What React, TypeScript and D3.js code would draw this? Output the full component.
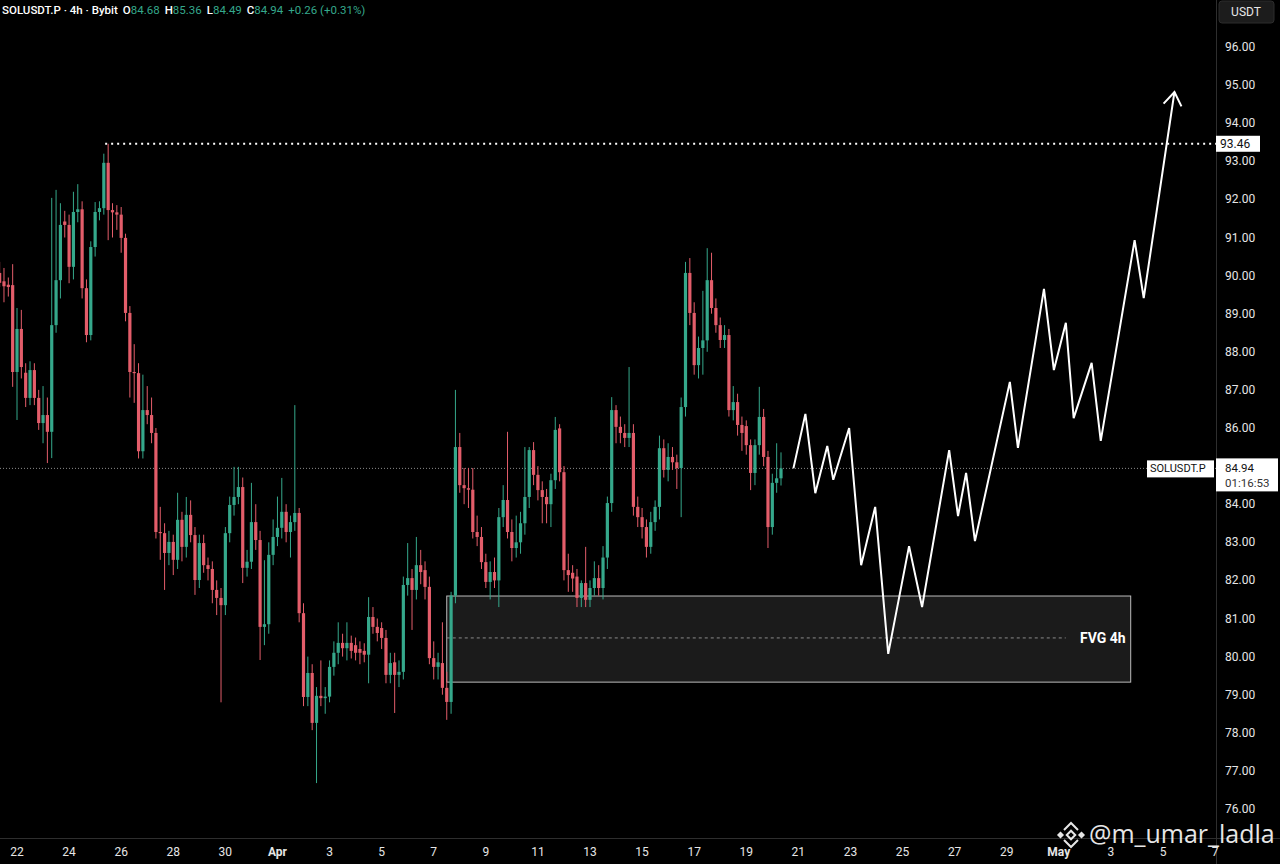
import React, { useEffect, useRef } from 'react';
import * as d3 from 'd3';

// 4h candles [open, high, low, close], first candle 21 Mar 08:00 UTC
const candles: [number, number, number, number][] = [
  [90.07, 90.36, 89.7, 89.81], [89.85, 90.2, 89.3, 89.72], [89.76, 89.95, 89.45, 89.7], [89.75, 90.3, 87.08, 87.47],
  [87.47, 89.15, 86.21, 88.6], [88.6, 89.1, 87.3, 87.6], [87.45, 87.7, 86.55, 86.79], [86.79, 87.75, 86.6, 87.52],
  [87.52, 87.7, 86.6, 86.79], [86.79, 87.0, 85.95, 86.13], [86.13, 87.1, 85.6, 86.34], [86.34, 86.8, 85.08, 85.9],
  [85.9, 92.04, 85.21, 88.7], [88.7, 92.25, 88.5, 89.88], [89.88, 91.9, 89.4, 91.33], [91.42, 91.7, 91.0, 91.33],
  [91.33, 91.6, 89.8, 90.23], [90.23, 92.2, 89.9, 91.67], [91.67, 92.4, 91.4, 91.74], [91.74, 91.95, 89.4, 89.67],
  [89.67, 89.9, 88.25, 88.44], [88.44, 90.9, 88.3, 90.75], [90.75, 91.93, 90.5, 91.67], [91.67, 91.95, 91.45, 91.77],
  [91.77, 93.2, 91.6, 92.96], [92.96, 93.46, 90.93, 91.72], [91.72, 91.9, 91.0, 91.66], [91.66, 91.85, 91.2, 91.6],
  [91.6, 91.8, 90.6, 90.99], [90.99, 91.1, 88.8, 89.02], [89.02, 89.2, 86.8, 87.47], [87.47, 88.2, 86.66, 87.44],
  [87.44, 87.7, 85.2, 85.39], [85.39, 87.4, 85.2, 86.47], [86.47, 87.1, 86.1, 86.34], [86.34, 86.8, 85.6, 85.87],
  [85.87, 86.0, 83.1, 83.27], [83.27, 83.93, 82.54, 83.24], [83.24, 83.5, 81.75, 82.72], [82.72, 83.3, 82.4, 83.01],
  [83.01, 83.2, 82.14, 82.54], [82.54, 84.3, 82.3, 83.59], [83.59, 83.8, 82.5, 82.88], [82.88, 84.19, 82.6, 83.72],
  [83.72, 84.1, 83.0, 83.19], [83.19, 83.4, 81.62, 82.01], [82.01, 83.2, 81.8, 82.98], [82.98, 83.2, 82.2, 82.4],
  [82.4, 82.6, 82.0, 82.3], [82.3, 82.5, 81.4, 81.75], [81.75, 82.0, 81.09, 81.54], [81.54, 81.8, 78.8, 81.35],
  [81.35, 83.4, 81.09, 83.24], [83.24, 84.2, 83.0, 83.98], [83.98, 84.98, 83.7, 84.19], [84.19, 84.98, 84.0, 84.45],
  [84.45, 84.7, 81.93, 82.33], [82.33, 82.8, 82.1, 82.49], [82.49, 84.56, 82.3, 83.53], [83.53, 84.0, 82.8, 83.06],
  [83.06, 83.3, 79.91, 80.78], [80.78, 82.53, 80.3, 80.85], [80.85, 83.0, 80.6, 82.67], [82.67, 83.6, 82.4, 83.14],
  [83.14, 84.2, 82.9, 83.38], [83.38, 84.69, 83.1, 83.8], [83.8, 84.0, 83.0, 83.27], [83.27, 83.7, 82.6, 83.53],
  [83.53, 86.6, 83.3, 83.77], [83.77, 83.9, 80.9, 81.14], [81.14, 81.4, 78.7, 78.94], [78.94, 80.0, 78.7, 79.57],
  [79.57, 79.8, 78.07, 78.26], [78.26, 79.2, 76.68, 78.97], [78.97, 79.9, 78.7, 78.91], [78.91, 79.2, 78.5, 78.95],
  [78.95, 79.9, 78.8, 79.73], [79.73, 80.4, 79.5, 80.1], [80.1, 80.9, 79.8, 80.36], [80.36, 80.6, 80.0, 80.22],
  [80.22, 80.9, 79.9, 80.36], [80.36, 80.55, 79.95, 80.15], [80.3, 80.5, 79.9, 80.1], [80.2, 80.4, 79.8, 80.1],
  [80.15, 80.35, 79.85, 80.05], [80.05, 81.56, 79.3, 81.04], [81.04, 81.3, 80.6, 80.78], [80.78, 81.0, 80.4, 80.62],
  [80.75, 80.9, 80.2, 80.49], [80.49, 80.7, 79.3, 79.52], [79.52, 80.1, 79.3, 79.83], [79.85, 80.1, 78.52, 79.52],
  [79.52, 79.9, 79.2, 79.6], [79.6, 82.1, 79.4, 81.88], [81.88, 82.98, 81.6, 82.06], [82.06, 82.3, 80.7, 81.75],
  [81.75, 83.14, 81.5, 82.4], [82.4, 82.8, 81.9, 82.22], [82.27, 82.5, 81.5, 81.83], [81.83, 82.1, 79.8, 79.96],
  [79.96, 80.4, 79.4, 79.73], [79.73, 80.1, 79.4, 79.85], [79.83, 80.9, 79.0, 79.18], [79.18, 79.6, 78.34, 78.81],
  [78.81, 81.7, 78.5, 81.6], [81.6, 87.0, 81.4, 85.5], [85.5, 85.87, 84.3, 84.5], [84.5, 84.95, 84.0, 84.42],
  [84.42, 84.95, 83.9, 84.38], [84.38, 84.95, 83.1, 83.27], [83.27, 83.7, 82.9, 83.14], [83.14, 83.4, 82.3, 82.48],
  [82.48, 82.7, 81.8, 81.96], [81.96, 82.5, 81.5, 82.22], [82.22, 82.6, 81.8, 82.0], [82.0, 83.9, 81.3, 83.66],
  [83.66, 84.5, 83.4, 84.11], [84.11, 85.9, 83.1, 83.27], [83.27, 83.6, 82.5, 82.85], [82.85, 83.7, 82.6, 83.0],
  [83.0, 83.8, 82.7, 83.5], [83.5, 85.5, 83.2, 84.19], [84.19, 85.5, 83.9, 85.42], [85.42, 85.63, 84.5, 84.77],
  [84.77, 85.0, 84.1, 84.37], [84.37, 84.6, 83.5, 84.19], [84.19, 84.4, 83.5, 84.0], [84.0, 84.8, 83.4, 84.63],
  [84.63, 86.29, 84.4, 85.95], [85.99, 86.1, 84.6, 84.84], [84.84, 85.0, 82.0, 82.27], [82.27, 82.7, 81.7, 82.14],
  [82.2, 82.4, 81.7, 82.05], [82.1, 82.3, 81.3, 81.54], [81.54, 82.0, 81.3, 81.93], [81.93, 82.88, 81.3, 81.49],
  [81.49, 82.0, 81.3, 81.8], [81.8, 82.5, 81.6, 82.06], [82.06, 82.4, 81.6, 81.8], [81.8, 82.9, 81.5, 82.6],
  [82.6, 84.2, 82.3, 84.03], [84.03, 86.81, 83.8, 86.47], [86.47, 86.6, 85.6, 86.03], [86.03, 86.3, 85.6, 85.87],
  [85.87, 86.1, 85.5, 85.74], [85.74, 87.6, 85.5, 85.87], [85.87, 86.1, 83.7, 83.93], [83.93, 84.2, 83.4, 83.66],
  [83.66, 83.9, 83.1, 83.4], [83.4, 83.6, 82.6, 82.88], [82.88, 83.8, 82.7, 83.53], [83.53, 84.1, 83.3, 83.93],
  [83.93, 85.8, 83.6, 85.47], [85.47, 85.7, 84.7, 84.9], [84.9, 85.6, 84.6, 85.24], [85.24, 85.5, 84.9, 85.1],
  [85.1, 85.3, 84.4, 84.95], [84.95, 86.8, 83.66, 86.55], [86.55, 90.36, 86.3, 90.07], [90.07, 90.46, 88.7, 89.02],
  [89.02, 89.3, 87.4, 87.65], [87.65, 88.4, 87.3, 88.1], [88.1, 89.6, 87.4, 88.3], [88.3, 90.72, 88.0, 89.88],
  [89.88, 90.6, 89.0, 89.15], [89.15, 89.4, 88.5, 88.7], [88.7, 88.9, 88.1, 88.31], [88.31, 88.7, 88.1, 88.44],
  [88.44, 88.6, 86.3, 86.47], [86.47, 87.1, 86.2, 86.68], [86.68, 86.9, 85.8, 86.08], [86.08, 86.3, 85.4, 85.87],
  [86.05, 86.2, 85.3, 85.55], [85.55, 85.7, 84.37, 84.82], [84.82, 85.7, 84.5, 85.55], [85.55, 87.08, 85.3, 86.29],
  [86.29, 86.5, 85.0, 85.24], [85.24, 85.4, 82.85, 83.4], [83.4, 84.8, 83.2, 84.56], [84.56, 85.6, 84.3, 84.68],
  [84.68, 85.36, 84.49, 84.94],
];

// projected path: [days after 22 Mar, price]
const projection: [number, number][] = [
  [29.81, 84.94], [30.27, 86.37], [30.65, 84.29], [31.11, 85.53], [31.34, 84.64], [31.95, 86.0],
  [32.41, 82.4], [32.95, 83.93], [33.45, 80.07], [34.25, 82.9], [34.75, 81.3], [35.79, 85.42],
  [36.13, 83.69], [36.44, 84.82], [36.78, 83.03], [38.12, 87.21], [38.43, 85.48], [39.43, 89.65],
  [39.81, 87.52], [40.27, 88.76], [40.57, 86.26], [41.26, 87.71], [41.61, 85.66], [42.91, 90.93],
  [43.26, 89.41], [44.44, 94.82],
];

const priceTicks = d3.range(76, 97, 1);
const highLevel = 93.46;
const highCandle = 25;
const fvgTop = 81.59;
const fvgBottom = 79.33;
const fvgMid = 80.49;
const fvgStartCandle = 103;
const fvgEndDay = 42.76;
const fvgLabel = 'FVG 4h';
const countdown = '01:16:53';
const symbol = 'SOLUSDT.P';

const HOUR = 3600000;
const DAY = 86400000;
const base = Date.UTC(2026, 2, 22);
const candleStart = Date.UTC(2026, 2, 21, 8);
const tickDates = d3.utcDay.range(new Date(base), new Date(Date.UTC(2026, 4, 8)), 2);

const UP = '#35a88b';
const DOWN = '#e35d6a';
const FONT = 'Roboto, "Noto Sans", sans-serif';

const App: React.FC = () => {
  const svgRef = useRef<SVGSVGElement>(null);

  useEffect(() => {
    document.body.style.margin = '0';
    if (!svgRef.current) return;
    const svg = d3.select(svgRef.current);
    svg.selectAll('*').remove();

    const paneW = 1216;
    const paneH = 838;
    const x = d3.scaleUtc().domain([new Date(base), new Date(Date.UTC(2026, 4, 5))]).range([17, 1163]);
    const y = d3.scaleLinear().domain([76, 96]).range([809, 47]);
    const cx = (i: number) => x(new Date(candleStart + i * 4 * HOUR));
    const dx = (d: number) => x(new Date(base + d * DAY));

    svg.append('rect').attr('width', 1280).attr('height', 864).attr('fill', '#000');

    const defs = svg.append('defs');
    defs.append('clipPath').attr('id', 'pane').append('rect').attr('width', paneW).attr('height', paneH);
    const pane = svg.append('g').attr('clip-path', 'url(#pane)');

    // FVG zone
    const fx0 = cx(fvgStartCandle);
    const fx1 = dx(fvgEndDay);
    pane.append('rect')
      .attr('x', fx0).attr('y', y(fvgTop))
      .attr('width', fx1 - fx0).attr('height', y(fvgBottom) - y(fvgTop))
      .attr('fill', '#1b1b1b').attr('stroke', '#bdbdbd').attr('stroke-width', 1);
    pane.append('line')
      .attr('x1', fx0).attr('x2', fx1 - 65)
      .attr('y1', y(fvgMid)).attr('y2', y(fvgMid))
      .attr('stroke', '#8a8a8a').attr('stroke-dasharray', '3,3');
    pane.append('text')
      .attr('x', fx1 - 5).attr('y', y(fvgMid))
      .attr('text-anchor', 'end').attr('dominant-baseline', 'central')
      .attr('font-family', FONT).attr('font-size', 14).attr('font-weight', 700)
      .attr('fill', '#fff').text(fvgLabel);

    // last price line
    const last = candles[candles.length - 1];
    pane.append('line')
      .attr('x1', 0).attr('x2', paneW)
      .attr('y1', y(last[3])).attr('y2', y(last[3]))
      .attr('stroke', '#8a8a8a').attr('stroke-width', 1).attr('stroke-dasharray', '1,2');

    // high level
    pane.append('line')
      .attr('x1', cx(highCandle) - 3).attr('x2', paneW)
      .attr('y1', y(highLevel)).attr('y2', y(highLevel))
      .attr('stroke', '#fff').attr('stroke-width', 2).attr('stroke-dasharray', '2,4');

    // candles
    const g = pane.append('g');
    candles.forEach((c, i) => {
      const [o, h, l, cl] = c;
      const col = cl >= o ? UP : DOWN;
      const xc = cx(i);
      g.append('line')
        .attr('x1', xc).attr('x2', xc)
        .attr('y1', y(h)).attr('y2', y(l))
        .attr('stroke', col).attr('stroke-width', 1);
      const top = y(Math.max(o, cl));
      const bh = Math.max(1, y(Math.min(o, cl)) - top);
      g.append('rect')
        .attr('x', xc - 1.6).attr('y', top)
        .attr('width', 3.2).attr('height', bh)
        .attr('fill', col);
    });

    // projection
    const line = d3.line<[number, number]>().x(d => dx(d[0])).y(d => y(d[1]));
    pane.append('path')
      .attr('d', line(projection))
      .attr('fill', 'none').attr('stroke', '#fff').attr('stroke-width', 2)
      .attr('stroke-linejoin', 'miter');
    const tip = projection[projection.length - 1];
    const prev = projection[projection.length - 2];
    const tx = dx(tip[0]);
    const ty = y(tip[1]);
    const ang = Math.atan2(ty - y(prev[1]), tx - dx(prev[0]));
    const head = [ang + Math.PI - 0.6, ang + Math.PI + 0.6].map(a => [tx + Math.cos(a) * 16, ty + Math.sin(a) * 16]);
    pane.append('path')
      .attr('d', `M${head[0][0]},${head[0][1]}L${tx},${ty}L${head[1][0]},${head[1][1]}`)
      .attr('fill', 'none').attr('stroke', '#fff').attr('stroke-width', 2);

    // axes borders
    svg.append('line').attr('x1', paneW + 0.5).attr('x2', paneW + 0.5).attr('y1', 0).attr('y2', 864)
      .attr('stroke', '#2e2e2e');
    svg.append('line').attr('x1', 0).attr('x2', 1280).attr('y1', paneH + 0.5).attr('y2', paneH + 0.5)
      .attr('stroke', '#2e2e2e');

    // price axis
    const ax = svg.append('g').attr('font-family', FONT).attr('font-size', 12).attr('fill', '#e6e6e6');
    priceTicks.forEach(p => {
      ax.append('text')
        .attr('x', 1225).attr('y', y(p)).attr('dominant-baseline', 'central')
        .text(p.toFixed(2));
    });
    ax.append('rect').attr('x', 1219).attr('y', 1).attr('width', 55).attr('height', 22).attr('rx', 3)
      .attr('fill', '#1c1c1c').attr('stroke', '#2c2c2c');
    ax.append('text').attr('x', 1246).attr('y', 12).attr('text-anchor', 'middle')
      .attr('dominant-baseline', 'central').text('USDT');

    // high label
    ax.append('rect').attr('x', paneW).attr('y', y(highLevel) - 8).attr('width', 44).attr('height', 16)
      .attr('fill', '#fff');
    ax.append('text').attr('x', 1220).attr('y', y(highLevel)).attr('dominant-baseline', 'central')
      .attr('fill', '#111').text(highLevel.toFixed(2));

    // last price label
    const ly = y(last[3]);
    ax.append('rect').attr('x', paneW).attr('y', ly - 10).attr('width', 62).attr('height', 33).attr('fill', '#fff');
    ax.append('text').attr('x', 1225).attr('y', ly).attr('dominant-baseline', 'central')
      .attr('font-size', 11.5).attr('fill', '#111').text(last[3].toFixed(2));
    ax.append('text').attr('x', 1225).attr('y', ly + 14.5).attr('dominant-baseline', 'central')
      .attr('font-size', 11.5).attr('fill', '#333').text(countdown);
    ax.append('rect').attr('x', 1147).attr('y', ly - 8).attr('width', 67).attr('height', 17).attr('fill', '#fff');
    ax.append('text').attr('x', 1150).attr('y', ly + 0.5).attr('dominant-baseline', 'central')
      .attr('font-size', 11).attr('fill', '#111').text(symbol);

    // time axis
    const tg = svg.append('g').attr('font-family', FONT).attr('font-size', 12).attr('fill', '#e6e6e6');
    tickDates.forEach(d => {
      const first = d.getUTCDate() === 1;
      tg.append('text')
        .attr('x', x(d)).attr('y', 852).attr('text-anchor', 'middle').attr('dominant-baseline', 'central')
        .attr('font-weight', first ? 700 : 400)
        .text(first ? d3.utcFormat('%b')(d) : String(d.getUTCDate()));
    });

    // header legend
    const prevClose = candles[candles.length - 2][3];
    const chg = last[3] - prevClose;
    const hdr = svg.append('text').attr('x', 2).attr('y', 14)
      .attr('font-family', FONT).attr('font-size', 11.5).attr('font-weight', 500).attr('fill', '#fff');
    hdr.append('tspan').text(`${symbol} · 4h · Bybit`);
    const parts: [string, number][] = [['O', last[0]], ['H', last[1]], ['L', last[2]], ['C', last[3]]];
    parts.forEach(([k, v]) => {
      hdr.append('tspan').attr('dx', 5).text(k);
      hdr.append('tspan').attr('fill', UP).attr('font-weight', 400).text(v.toFixed(2));
    });
    hdr.append('tspan').attr('dx', 5).attr('fill', UP).attr('font-weight', 400)
      .text(`+${chg.toFixed(2)} (+${(chg / prevClose * 100).toFixed(2)}%)`);

    // watermark
    const wm = svg.append('g').attr('opacity', 0.9);
    const logo = wm.append('g').attr('transform', 'translate(1071,835)')
      .attr('fill', 'none').attr('stroke', '#fff').attr('stroke-width', 2);
    logo.append('rect').attr('x', -3).attr('y', -3).attr('width', 6).attr('height', 6).attr('transform', 'rotate(45)');
    logo.append('path').attr('d', 'M-7,-5L0,-12L7,-5');
    logo.append('path').attr('d', 'M-7,5L0,12L7,5');
    logo.append('rect').attr('x', -12).attr('y', -1.5).attr('width', 3).attr('height', 3).attr('fill', '#fff')
      .attr('transform', 'rotate(45,-10.5,0)');
    logo.append('rect').attr('x', 9).attr('y', -1.5).attr('width', 3).attr('height', 3).attr('fill', '#fff')
      .attr('transform', 'rotate(45,10.5,0)');
    wm.append('text').attr('x', 1089).attr('y', 843)
      .attr('font-family', '"Open Sans", sans-serif').attr('font-size', 25).attr('fill', '#fff')
      .text('@m_umar_ladla');
  }, []);

  return <svg ref={svgRef} width={1280} height={864} style={{ display: 'block', position: 'absolute', left: 0, top: 0 }} />;
};

export default App;
